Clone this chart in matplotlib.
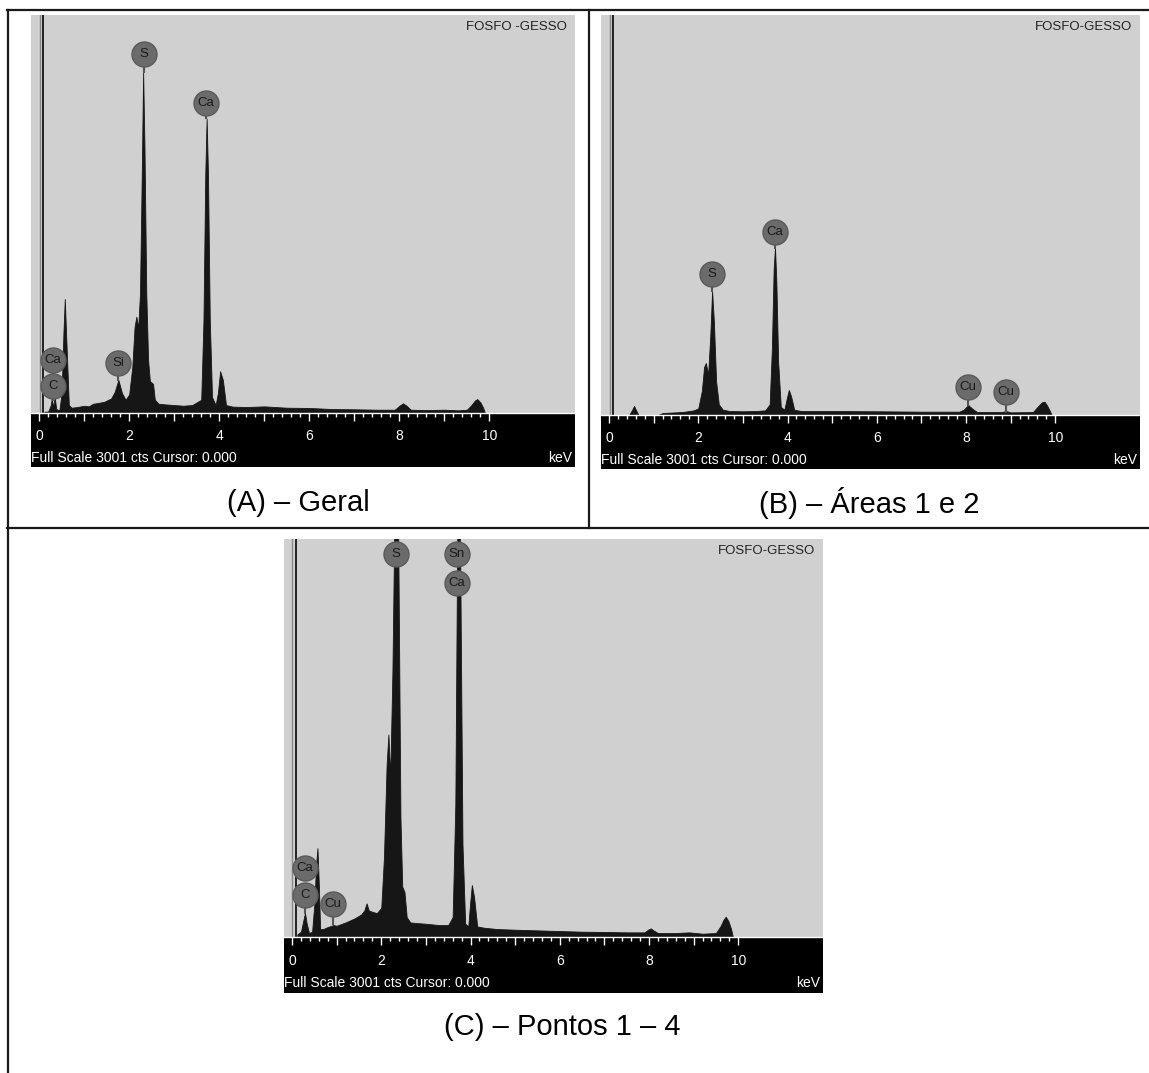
import numpy as np
import matplotlib.pyplot as plt
from matplotlib.lines import Line2D

plt.rcParams['font.family'] = ['Liberation Sans', 'DejaVu Sans']

W, H = 1149, 1073
FULL_SCALE = 3001
XLIM = (-0.18, 11.9)
GRAY = '#d0d0d0'
INK = '#161616'

# spectrum A - Geral (keV, counts)
energy_a = [0.12, 0.2, 0.26, 0.28, 0.31, 0.33, 0.35, 0.38, 0.45, 0.5, 0.54, 0.57, 0.61, 0.66,
            0.72, 0.85, 1.0, 1.1, 1.2, 1.3, 1.45, 1.6, 1.68, 1.76, 1.84, 1.92, 2.0, 2.07, 2.12,
            2.16, 2.2, 2.24, 2.28, 2.31, 2.34, 2.38, 2.42, 2.46, 2.53, 2.57, 2.65, 2.8, 3.0, 3.2,
            3.4, 3.6, 3.65, 3.69, 3.72, 3.75, 3.79, 3.84, 3.92, 3.97, 4.02, 4.08, 4.15, 4.3, 4.6,
            5.0, 5.5, 6.0, 6.5, 7.0, 7.5, 7.9, 8.0, 8.08, 8.16, 8.25, 8.6, 9.0, 9.3, 9.5, 9.6,
            9.68, 9.73, 9.8, 9.86, 9.9, 10.0]
counts_a = [10, 10, 60, 110, 40, 90, 110, 30, 20, 150, 600, 860, 500, 60,
            40, 45, 55, 50, 70, 75, 85, 110, 160, 250, 150, 100, 140, 350, 650,
            726, 640, 900, 1800, 2570, 2000, 900, 400, 240, 220, 100, 70, 65, 60, 55,
            60, 100, 700, 1800, 2220, 1800, 700, 120, 60, 150, 315, 250, 60, 48, 45,
            50, 40, 38, 30, 28, 25, 25, 55, 73, 55, 25, 22, 25, 20, 25, 60,
            95, 105, 80, 40, 0, 0]

# spectrum B - Areas 1 e 2
energy_b = [0.1, 0.45, 0.52, 0.56, 0.6, 0.66, 1.1, 1.2, 1.5, 1.7, 1.9, 2.0, 2.08, 2.13, 2.17,
            2.22, 2.27, 2.31, 2.35, 2.4, 2.46, 2.55, 2.7, 3.0, 3.3, 3.5, 3.6, 3.65, 3.69, 3.72,
            3.75, 3.79, 3.85, 3.93, 3.98, 4.03, 4.08, 4.15, 4.3, 5.0, 6.0, 7.0, 7.85, 7.95,
            8.05, 8.15, 8.25, 8.8, 8.9, 9.0, 9.5, 9.6, 9.7, 9.76, 9.82, 9.88, 9.92, 10.0]
counts_b = [0, 0, 40, 68, 40, 0, 0, 15, 20, 25, 35, 50, 180, 360, 390,
            300, 600, 928, 700, 250, 80, 40, 30, 28, 30, 35, 80, 500, 1100, 1256,
            1000, 400, 60, 40, 120, 188, 140, 40, 30, 30, 28, 25, 25, 40,
            75, 45, 22, 22, 30, 20, 22, 60, 95, 100, 70, 30, 0, 0]

# spectrum C - Pontos 1 - 4
energy_c = [0.12, 0.2, 0.25, 0.29, 0.33, 0.38, 0.45, 0.5, 0.54, 0.57, 0.6, 0.63, 0.7, 0.8,
            0.93, 1.0, 1.2, 1.4, 1.55, 1.62, 1.67, 1.72, 1.8, 1.9, 2.0, 2.06, 2.12, 2.16, 2.2,
            2.25, 2.3, 2.34, 2.38, 2.43, 2.47, 2.52, 2.57, 2.65, 2.8, 3.0, 3.3, 3.5, 3.6, 3.66,
            3.71, 3.74, 3.77, 3.82, 3.88, 3.95, 3.99, 4.03, 4.08, 4.15, 4.3, 4.6, 5.0, 5.5,
            6.0, 6.5, 7.0, 7.5, 7.9, 7.98, 8.04, 8.1, 8.2, 8.6, 8.9, 9.2, 9.5, 9.6, 9.67,
            9.72, 9.78, 9.84, 9.88, 10.0]
counts_c = [20, 40, 120, 180, 100, 30, 40, 250, 550, 670, 400, 60, 60, 75,
            90, 85, 110, 140, 170, 200, 254, 200, 190, 180, 220, 600, 1300, 1527, 1200,
            2000, 3300, 3400, 3000, 900, 380, 340, 150, 110, 105, 100, 90, 90, 150, 1000,
            3400, 3400, 2800, 700, 100, 80, 250, 392, 300, 80, 70, 60, 55, 50,
            45, 40, 38, 35, 35, 55, 65, 50, 30, 30, 35, 25, 30, 80, 130,
            153, 120, 60, 0, 0]

# zero-energy noise peak outline (keV)
zero_a = [0.02, 0.08]
zero_b = [0.02, 0.08]
zero_c = [0.0, 0.09]

# element markers: symbol, keV of circle, counts of circle centre, counts where stem ends
labels_a = [('S', 2.32, 2707, 2570), ('Ca', 3.71, 2337, 2222), ('Si', 1.75, 377, 250),
            ('Ca', 0.31, 400, 300), ('C', 0.31, 200, 100)]
labels_b = [('S', 2.31, 1060, 928), ('Ca', 3.71, 1371, 1256),
            ('Cu', 8.04, 213, 75), ('Cu', 8.9, 175, 25)]
labels_c = [('S', 2.32, 2888, 2888), ('Sn', 3.69, 2888, 2888), ('Ca', 3.69, 2669, 2669),
            ('Ca', 0.29, 520, 420), ('C', 0.29, 317, 180), ('Cu', 0.92, 249, 100)]

energy_ticks = [0, 2, 4, 6, 8, 10]

fig = plt.figure(figsize=(W / 100, H / 100), dpi=100)


def px_axes(x0, y0, x1, y1):
    return fig.add_axes([x0 / W, 1 - y1 / H, (x1 - x0) / W, (y1 - y0) / H])


def spectrum(box, band_bottom, energy, counts, zero, labels, title):
    x0, y0, x1, y1 = box
    ax = px_axes(x0, y0, x1, y1)
    ax.set_facecolor(GRAY)
    ax.set_xlim(XLIM)
    ax.set_ylim(0, FULL_SCALE)
    ax.set_xticks([])
    ax.set_yticks([])
    for s in ax.spines.values():
        s.set_visible(False)

    ax.fill_between(energy, counts, 0, color=INK, lw=0.6, edgecolor=INK)
    ax.plot([zero[0], zero[0]], [0, FULL_SCALE], color='#8a8a8a', lw=1.0)
    ax.plot([zero[1], zero[1]], [0, FULL_SCALE], color='#222222', lw=1.4)

    r = FULL_SCALE * 12.5 / (y1 - y0)
    for sym, e, yc, ytop in labels:
        if ytop < yc - r:
            ax.plot([e, e], [ytop, yc - r], color='#555555', lw=1.5, zorder=3)
        ax.plot(e, yc, 'o', ms=18, mfc='#6b6b6b', mec='#5a5a5a', mew=1, zorder=4)
        ax.text(e, yc, sym, ha='center', va='center', fontsize=9.5, color='#1a1a1a', zorder=5)

    ax.text(0.985, 0.985, title, transform=ax.transAxes, ha='right', va='top',
            fontsize=9.5, color='#222222')

    bx = px_axes(x0, y1, x1, band_bottom)
    bx.set_facecolor('black')
    bx.set_xlim(XLIM)
    bx.set_ylim(0, 1)
    for k, s in bx.spines.items():
        s.set_visible(k == 'top')
    bx.spines['top'].set_color('white')
    bx.spines['top'].set_linewidth(1.0)
    bx.xaxis.set_ticks_position('top')
    bx.set_xticks(np.arange(0, 11, 1))
    bx.set_xticks(np.arange(0, 10.01, 0.2), minor=True)
    bx.tick_params(axis='x', which='both', direction='in', color='white', width=1,
                   labeltop=False, labelbottom=False)
    bx.tick_params(axis='x', which='major', length=6)
    bx.tick_params(axis='x', which='minor', length=3)
    bx.set_yticks([])
    for v in energy_ticks:
        bx.text(v, 0.58, str(v), color='white', ha='center', va='center', fontsize=10)
    bx.text(0.0, 0.17, 'Full Scale 3001 cts Cursor: 0.000', transform=bx.transAxes,
            color='white', ha='left', va='center', fontsize=10)
    bx.text(0.995, 0.17, 'keV', transform=bx.transAxes, color='white',
            ha='right', va='center', fontsize=10)
    return ax


spectrum((31, 15, 575, 413), 467, energy_a, counts_a, zero_a, labels_a, 'FOSFO -GESSO')
spectrum((601, 15, 1140, 415), 469, energy_b, counts_b, zero_b, labels_b, 'FOSFO-GESSO')
spectrum((284, 539, 823, 937), 993, energy_c, counts_c, zero_c, labels_c, 'FOSFO-GESSO')

# table borders
def hline(y, x0, x1):
    fig.add_artist(Line2D([x0 / W, x1 / W], [1 - y / H, 1 - y / H], color='#1a1a1a', lw=1.6))


def vline(x, y0, y1):
    fig.add_artist(Line2D([x / W, x / W], [1 - y0 / H, 1 - y1 / H], color='#1a1a1a', lw=1.6))


hline(10, 7, W)
hline(528, 7, W)
vline(7.5, 10, H)
vline(589, 10, 528)

fig.text(298 / W, 1 - 503 / H, '(A) – Geral', ha='center', va='center', fontsize=21)
fig.text(869 / W, 1 - 503 / H, '(B) – Áreas 1 e 2', ha='center', va='center', fontsize=21)
fig.text(562 / W, 1 - 1027 / H, '(C) – Pontos 1 – 4', ha='center', va='center', fontsize=21)

fig.savefig('out.png', dpi=100)
